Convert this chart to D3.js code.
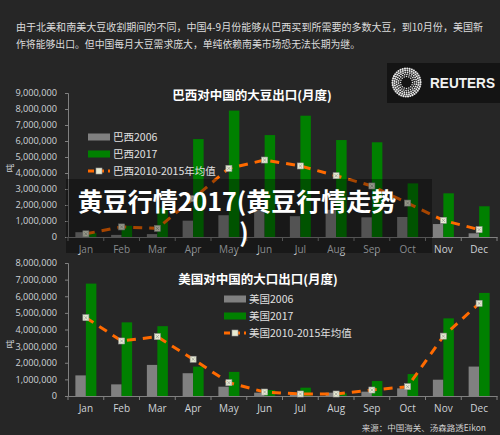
<!DOCTYPE html>
<html><head><meta charset="utf-8">
<script src="https://cdn.jsdelivr.net/npm/d3@7"></script>
<style>html,body{margin:0;padding:0;background:#262626;}svg{display:block;}</style>
</head><body>
<script>
const months = ["Jan","Feb","Mar","Apr","May","Jun","Jul","Aug","Sep","Oct","Nov","Dec"];
const brazil2006 = [300000,130000,180000,1020000,1360000,1700000,1300000,1700000,1230000,1250000,810000,230000];
const brazil2017 = [250000,700000,1800000,6120000,7900000,6370000,7580000,6060000,5920000,3350000,2730000,1920000];
const brazilAvg = [200000,630000,540000,2400000,4290000,4810000,4440000,3830000,3190000,2120000,1040000,460000];
const us2006 = [1240000,700000,1870000,1370000,560000,200000,160000,200000,260000,460000,980000,1770000];
const us2017 = [6760000,4430000,4200000,1770000,1450000,360000,500000,160000,900000,1320000,4670000,6200000];
const usAvg = [4710000,3310000,3570000,2210000,800000,240000,120000,120000,360000,560000,3600000,5570000];
const brazilTicks = [0,1e6,2e6,3e6,4e6,5e6,6e6,7e6,8e6,9e6];
const usTicks = [0,1e6,2e6,3e6,4e6,5e6,6e6,7e6,8e6];
const headerLines = ["由于北美和南美大豆收割期间的不同，中国4-9月份能够从巴西买到所需要的多数大豆，到10月份，美国新",
                     "作将能够出口。但中国每月大豆需求庞大，单纯依赖南美市场恐无法长期为继。"];
const headerWidths = [467, 344];
const brazilLegend = ["巴西2006","巴西2017","巴西2010-2015年均值"];
const usLegend = ["美国2006","美国2017","美国2010-2015年均值"];

const W = 500, H = 435;
const FONT = "'Noto Sans CJK SC','Noto Sans',sans-serif";
const NUMFONT = "'Open Sans','Noto Sans',sans-serif";
const svg = d3.select("body").append("svg").attr("width", W).attr("height", H)
  .style("font-family", FONT);
svg.append("rect").attr("width", W).attr("height", H).attr("fill", "#262626");

// header
svg.selectAll("text.hdr").data(headerLines).enter().append("text")
  .attr("class","hdr").attr("x", 16).attr("y", (d,i)=>31 + i*16.5)
  .attr("fill","#dcdcdc").attr("font-size", 10)
  .attr("textLength",(d,i)=>headerWidths[i]).attr("lengthAdjust","spacingAndGlyphs")
  .text(d=>d);

// Reuters box
const rb = svg.append("g");
rb.append("rect").attr("x",387).attr("y",63).attr("width",113).attr("height",40).attr("fill","#141414");
const lg = rb.append("g").attr("transform","translate(406.5,82.5)");
[6,8,10,12,14].forEach((r,k)=>{
  const n = Math.round(2*Math.PI*r/2.3);
  for(let i=0;i<n;i++){
    const a = 2*Math.PI*i/n + k*0.2;
    lg.append("circle").attr("cx", r*Math.cos(a)).attr("cy", r*Math.sin(a))
      .attr("r", 0.75 + k*0.08).attr("fill","#e8e8e8");
  }
});
rb.append("text").attr("x",430).attr("y",88).attr("fill","#f2f2f2")
  .attr("font-family","'Liberation Sans','Noto Sans',sans-serif").attr("font-weight","bold")
  .attr("font-size",15).attr("textLength",65).attr("lengthAdjust","spacingAndGlyphs").text("REUTERS");

function chart(cfg){
  const g = svg.append("g");
  const x = d3.scaleBand().domain(months).range([68, 497]).padding(0);
  const y = d3.scaleLinear().domain([0, cfg.max]).range([cfg.y0, cfg.y1]);
  const bw = 10.5;
  const cx = d => x(d) + x.bandwidth()/2;

  // y axis
  const ya = g.append("g").attr("transform","translate(68,0)")
    .call(d3.axisLeft(y).tickValues(cfg.ticks).tickFormat(d3.format(",")).tickSize(3).tickPadding(8));
  ya.select(".domain").attr("stroke","#808080");
  ya.selectAll(".tick line").attr("stroke","#808080");
  ya.selectAll("text").attr("fill","#cfd3d8").attr("font-size",9.2)
    .attr("font-family",NUMFONT);

  // x axis
  const xa = g.append("g").attr("transform",`translate(0,${cfg.y0})`)
    .call(d3.axisBottom(x).tickSize(0).tickPadding(9));
  xa.select(".domain").attr("stroke","#808080").attr("stroke-width",1.2);
  xa.selectAll("text").attr("fill","#cfd3d8").attr("font-size",10)
    .attr("font-family",NUMFONT);
  const bounds = months.map(m=>x(m)).concat([x.range()[1]]);
  g.selectAll("line.bt").data(bounds).enter().append("line")
    .attr("x1",d=>d).attr("x2",d=>d).attr("y1",cfg.y0).attr("y2",cfg.y0+4)
    .attr("stroke","#808080");

  // bars
  g.selectAll("rect.g06").data(cfg.a).enter().append("rect")
    .attr("x",(d,i)=>cx(months[i])-bw).attr("width",bw)
    .attr("y",d=>y(d)).attr("height",d=>cfg.y0-y(d)).attr("fill","#808080");
  g.selectAll("rect.g17").data(cfg.b).enter().append("rect")
    .attr("x",(d,i)=>cx(months[i])).attr("width",bw)
    .attr("y",d=>y(d)).attr("height",d=>cfg.y0-y(d)).attr("fill","#008000");

  // line
  const line = d3.line().x((d,i)=>cx(months[i])).y(d=>y(d));
  g.append("path").datum(cfg.c).attr("d",line).attr("fill","none")
    .attr("stroke","#ff6a00").attr("stroke-width",3).attr("stroke-dasharray","9,7");
  const mk = g.selectAll("g.mk").data(cfg.c).enter().append("g")
    .attr("transform",(d,i)=>`translate(${cx(months[i])},${y(d)})`);
  mk.append("rect").attr("x",-3).attr("y",-3).attr("width",6).attr("height",6)
    .attr("fill","#e6ead2").attr("stroke","#9a9a9a").attr("stroke-width",0.6);
  mk.append("path").attr("d","M-1.6,-1.6L1.6,1.6M-1.6,1.6L1.6,-1.6").attr("stroke","#8a8a8a").attr("stroke-width",0.6);

  // title
  g.append("text").attr("x",cfg.tx).attr("y",cfg.ty).attr("text-anchor","middle")
    .attr("fill","#ffffff").attr("font-weight","bold").attr("font-size",12.5).text(cfg.title);

  // unit
  g.append("text").attr("transform",`translate(13,${cfg.uy}) rotate(-90)`).attr("text-anchor","middle")
    .attr("fill","#cfd3d8").attr("font-size",8.5).text("吨");

  // legend
  const L = g.append("g");
  const lx = cfg.lx;
  L.append("rect").attr("x",lx).attr("y",cfg.ly-3.5).attr("width",22).attr("height",7).attr("fill","#808080");
  L.append("rect").attr("x",lx).attr("y",cfg.ly+17-3.5).attr("width",22).attr("height",7).attr("fill","#008000");
  L.append("line").attr("x1",lx).attr("x2",lx+22).attr("y1",cfg.ly+34).attr("y2",cfg.ly+34)
    .attr("stroke","#ff6a00").attr("stroke-width",3).attr("stroke-dasharray","6,4");
  L.append("rect").attr("x",lx+8).attr("y",cfg.ly+31).attr("width",6).attr("height",6)
    .attr("fill","#e6ead2").attr("stroke","#9a9a9a").attr("stroke-width",0.6);
  L.selectAll("text").data(cfg.legend).enter().append("text")
    .attr("x",lx+25).attr("y",(d,i)=>cfg.ly+i*17+4).attr("fill","#e0e0e0")
    .attr("font-size",10.5).text(d=>d);
}

chart({a:brazil2006,b:brazil2017,c:brazilAvg,max:9e6,ticks:brazilTicks,y0:237,y1:93,
  title:"巴西对中国的大豆出口(月度)",tx:252,ty:100,uy:168,lx:88,ly:137,legend:brazilLegend});
chart({a:us2006,b:us2017,c:usAvg,max:8e6,ticks:usTicks,y0:396,y1:263,
  title:"美国对中国的大口出口(月度)",tx:258,ty:284,uy:344,lx:224,ly:299,legend:usLegend});

// source
svg.append("text").attr("x",486).attr("y",431).attr("text-anchor","end")
  .attr("fill","#cfcfcf").attr("font-size",8.5).text("来源：中国海关、汤森路透Eikon");

// overlay title
svg.append("rect").attr("x",66).attr("y",179).attr("width",366).attr("height",74)
  .attr("fill","#000").attr("fill-opacity",0.35);
svg.append("text").attr("x",237).attr("y",211).attr("text-anchor","middle")
  .attr("fill","#ffffff").attr("font-weight","bold").attr("font-size",25)
  .text("黄豆行情2017(黄豆行情走势");
svg.append("text").attr("x",244).attr("y",242).attr("text-anchor","middle")
  .attr("fill","#ffffff").attr("font-weight","bold").attr("font-size",25).text(")");
</script>
</body></html>
